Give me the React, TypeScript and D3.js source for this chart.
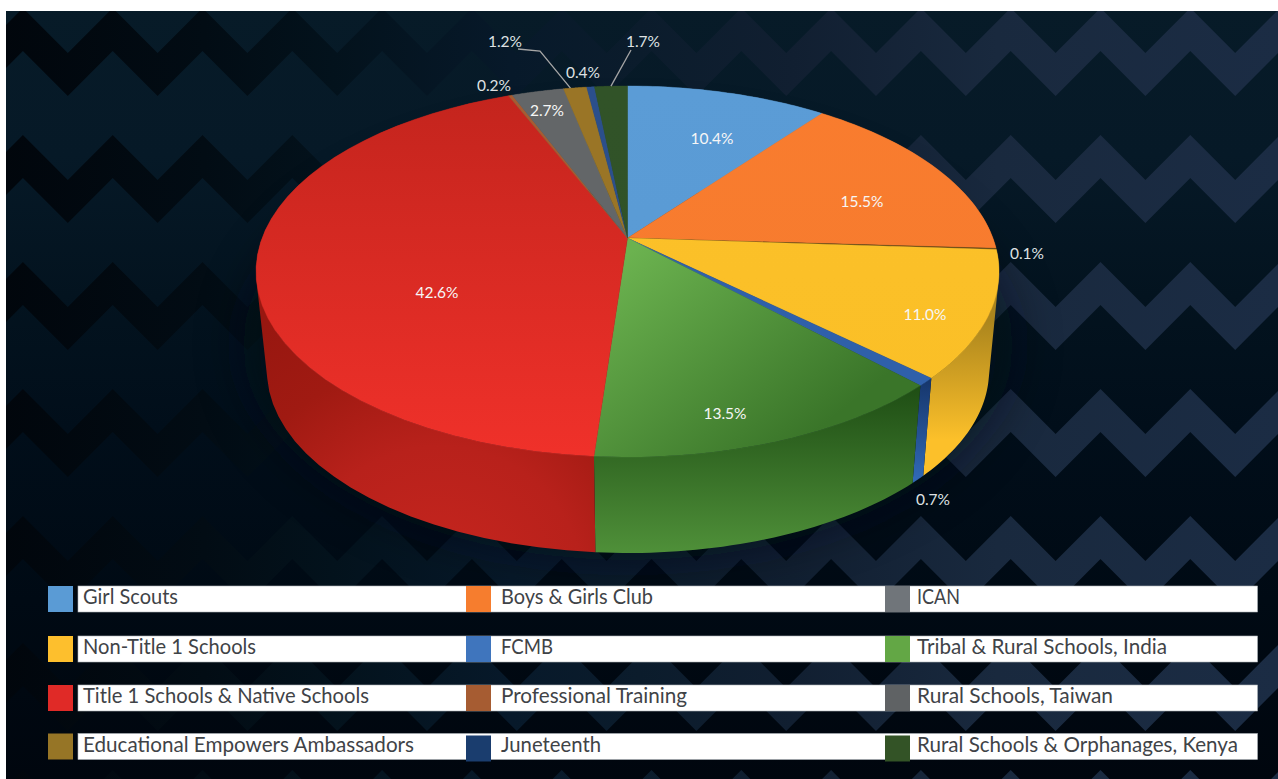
import React from "react";
import * as d3 from "d3";

// ---------- data ----------
const categories = [
  "Girl Scouts", "Boys & Girls Club", "ICAN", "Non-Title 1 Schools", "FCMB",
  "Tribal & Rural Schools, India", "Title 1 Schools & Native Schools", "Professional Training",
  "Rural Schools, Taiwan", "Educational Empowers Ambassadors", "Juneteenth", "Rural Schools & Orphanages, Kenya",
];
const shares = [10.4, 15.5, 0.1, 11.0, 0.7, 13.5, 42.6, 0.2, 2.7, 1.2, 0.4, 1.7];

// ---------- styles & layout (separate from the data) ----------
const swatchColors = ["#5a9bd5", "#f67d2e", "#70757a", "#fdbf2d", "#3f75bd", "#63a745", "#e02a27", "#a65c32", "#5f6264", "#967526", "#1a3d6e", "#335326"];
const topFrom = ["#5b9cd6", "#f97c2e", "#5c4416", "#fcc12a", "#2f60aa", "#6bb24f", "#c3241d", "#a65c32", "#636668", "#9a7526", "#2b4f8c", "#315328"];
const topTo = ["#5899d3", "#f57b2f", "#5c4416", "#fabf26", "#2f60aa", "#3a7529", "#f0312a", "#a65c32", "#636668", "#9a7526", "#2b4f8c", "#305228"];
const wallFrom = ["#3c6a92", "#a8551f", "#555", "#ab851d", "#16366c", "#1e4d14", "#981710", "#6e3c20", "#444", "#665018", "#1c3560", "#20381a"];
const wallTo = ["#3c6a92", "#a8551f", "#555", "#fcc02a", "#3068b4", "#4f9039", "#c0231d", "#6e3c20", "#444", "#665018", "#1c3560", "#20381a"];
const labelAt: [number, number][] = [[712, 144], [862, 207], [1027, 259], [925, 320], [933, 505], [725, 419], [437, 298], [494, 91], [547, 116], [505, 47], [583, 78], [643, 47]];
const legendTextWidth = [95, 152, 43, 173, 52, 250, 286, 186, 196, 331, 100, 321];
const legendTextInset = [35, 35, 32];
const legendRows = [586, 636, 685, 733.5];
const legendCols = [48, 466, 885];

const W = 1278, H = 779;
const PERSPECTIVE = -0.18; // the slices' apex sits above the ellipse's centre

const xTop = d3.scaleLinear().domain([-1, 1]).range([627.5 - 371.5, 627.5 + 371.5]);
const yTop = d3.scaleLinear().domain([-1, 1]).range([271.5 - 185.5, 271.5 + 185.5]);
const xBot = d3.scaleLinear().domain([-1, 1]).range([628 - 361, 628 + 361]);
const yBot = d3.scaleLinear().domain([-1, 1]).range([371 - 182, 371 + 182]);

// circle of the pie -> ellipse seen in perspective
function project(theta: number, r = 1): [number, number] {
  const u = r * Math.sin(theta), v = -r * Math.cos(theta), b = PERSPECTIVE;
  const d = 1 + b * v;
  return [(u * Math.sqrt(1 - b * b)) / d, (v + b) / d];
}
const onTop = (t: number, r = 1): [number, number] => { const p = project(t, r); return [xTop(p[0]), yTop(p[1])]; };
const onBot = (t: number): [number, number] => { const p = project(t); return [xBot(p[0]), yBot(p[1])]; };

const arcs = d3.pie<number>().sort(null).value((d) => d)(shares);
const line = d3.line();
const samples = (a: number, b: number) => d3.range(0, 41).map((i) => a + ((b - a) * i) / 40);

// wall of a slice: union of the small quads between the upper and lower rim
function wallPath(a: number, b: number) {
  const ts = samples(a, b);
  return d3.pairs(ts).map(([t0, t1]) => {
    const quad: [number, number][] = [onTop(t0), onTop(t1), onBot(t1), onBot(t0)];
    if (d3.polygonArea(quad) < 0) quad.reverse();
    return line(quad) + "Z";
  }).join("");
}

// chevron background
const chevronPeriod = 89.8, chevronRow = 127, chevronAmp = 45, chevronThick = 43;
function chevronPath(k: number) {
  const y0 = 8 + chevronRow * k;
  const xs = d3.range(-2, 32).map((i) => -22 + (i * chevronPeriod) / 2);
  const up = xs.map((x, i) => [x, y0 + (i % 2 === 0 ? chevronAmp : 0)] as [number, number]);
  const down = up.map(([x, y]) => [x, y + chevronThick] as [number, number]).reverse();
  return line([...up, ...down]) + "Z";
}

export default function App() {
  return (
    <svg width={W} height={H} style={{ position: "absolute", left: 0, top: 0, display: "block" }}>
      <defs>
        <clipPath id="bgClip"><rect x={6} y={11} width={W - 6} height={H - 11} /></clipPath>
        <filter id="soft" filterUnits="userSpaceOnUse" x={0} y={0} width={W} height={H}><feGaussianBlur stdDeviation="24" /></filter>
        <linearGradient id="bgBase" x1="0" y1="0" x2="0" y2="1">
          <stop offset="0" stopColor="#071b28" />
          <stop offset="0.2" stopColor="#061927" />
          <stop offset="0.38" stopColor="#03131f" />
          <stop offset="0.55" stopColor="#010e1a" />
          <stop offset="0.77" stopColor="#000a14" />
          <stop offset="1" stopColor="#00060e" />
        </linearGradient>
        <linearGradient id="bgChevron" gradientUnits="userSpaceOnUse" x1={0} y1={0} x2={W} y2={0}>
          <stop offset="0" stopColor="#01060c" />
          <stop offset="0.16" stopColor="#020c14" />
          <stop offset="0.26" stopColor="#03121c" />
          <stop offset="0.4" stopColor="#07192a" />
          <stop offset="0.5" stopColor="#0b1c2c" />
          <stop offset="0.62" stopColor="#111f31" />
          <stop offset="0.78" stopColor="#19293e" />
          <stop offset="1" stopColor="#1b2c44" />
        </linearGradient>
        <radialGradient id="wallRed" gradientUnits="userSpaceOnUse" cx={440} cy={590} r={320}>
          <stop offset="0" stopColor="#c8261f" />
          <stop offset="0.45" stopColor="#b8211b" />
          <stop offset="0.72" stopColor="#a01a12" />
          <stop offset="1" stopColor="#981710" />
        </radialGradient>
        {shares.map((_, i) => (
          <React.Fragment key={i}>
            <linearGradient id={`top${i}`} gradientUnits="userSpaceOnUse" x1={i === 5 ? 620 : 628} y1={i === 5 ? 260 : 90} x2={i === 5 ? 780 : 628} y2={i === 5 ? 460 : 457}>
              <stop offset="0" stopColor={topFrom[i]} />
              <stop offset="1" stopColor={topTo[i]} />
            </linearGradient>
            <linearGradient id={`wall${i}`} gradientUnits="userSpaceOnUse" x1={628} y1={i === 3 ? 320 : i === 4 ? 380 : i === 5 ? 385 : 310} x2={628} y2={i === 3 ? 440 : i === 4 ? 478 : 553}>
              <stop offset="0" stopColor={wallFrom[i]} />
              <stop offset="1" stopColor={wallTo[i]} />
            </linearGradient>
          </React.Fragment>
        ))}
      </defs>

      {/* background */}
      <g clipPath="url(#bgClip)">
        <rect x={0} y={0} width={W} height={H} fill="url(#bgBase)" />
        {d3.range(0, 7).map((k) => <path key={k} d={chevronPath(k)} fill="url(#bgChevron)" />)}
        <ellipse cx={628} cy={345} rx={385} ry={215} fill="#000a12" opacity={0.5} filter="url(#soft)" />
      </g>

      {/* walls */}
      {arcs.map((a, i) => (
        <path key={i} d={wallPath(a.startAngle, a.endAngle)} fill={i === 6 ? "url(#wallRed)" : `url(#wall${i})`} fillRule="nonzero" />
      ))}

      {/* top face */}
      {arcs.map((a, i) => {
        const ts = samples(a.startAngle, a.endAngle);
        return <path key={i} d={line([onTop(0, 0), ...ts.map((t) => onTop(t))]) + "Z"} fill={`url(#top${i})`} stroke={`url(#top${i})`} strokeWidth={0.4} />;
      })}

      {/* leader lines */}
      <path d={line([[518, 49], [540, 51], onTop((arcs[9].startAngle + arcs[9].endAngle) / 2 - 0.015)]) ?? ""} fill="none" stroke="#a6a6a6" strokeWidth={1.3} />
      <path d={line([[631, 50], onTop((arcs[11].startAngle + arcs[11].endAngle) / 2)]) ?? ""} fill="none" stroke="#a6a6a6" strokeWidth={1.3} />

      {/* data labels */}
      {shares.map((v, i) => (
        <text key={i} x={labelAt[i][0]} y={labelAt[i][1]} textAnchor="middle" fontFamily="Lato" fontSize={15.5} fill={[2, 4, 7, 9, 10, 11].includes(i) ? "#dfe1e3" : "#f6f6f6"}>
          {v.toFixed(1)}%
        </text>
      ))}

      {/* legend */}
      {legendRows.map((y0, r) => (
        <rect key={r} x={78} y={y0} width={1257.5 - 78} height={26} fill="#fff" stroke="#aeb4ba" strokeWidth={0.6} />
      ))}
      {categories.map((c, i) => {
        const col = i % 3, row = Math.floor(i / 3);
        const y0 = legendRows[row] + (row === 3 && col > 0 ? 2 : 0);
        return (
          <g key={c}>
            <rect x={legendCols[col]} y={y0} width={25} height={26} fill={swatchColors[i]} />
            <text x={legendCols[col] + legendTextInset[col]} y={legendRows[row] + 18} fontFamily="Lato" fontSize={22} fill="#3f4347" textLength={legendTextWidth[i]} lengthAdjust="spacingAndGlyphs">{c}</text>
          </g>
        );
      })}
    </svg>
  );
}
